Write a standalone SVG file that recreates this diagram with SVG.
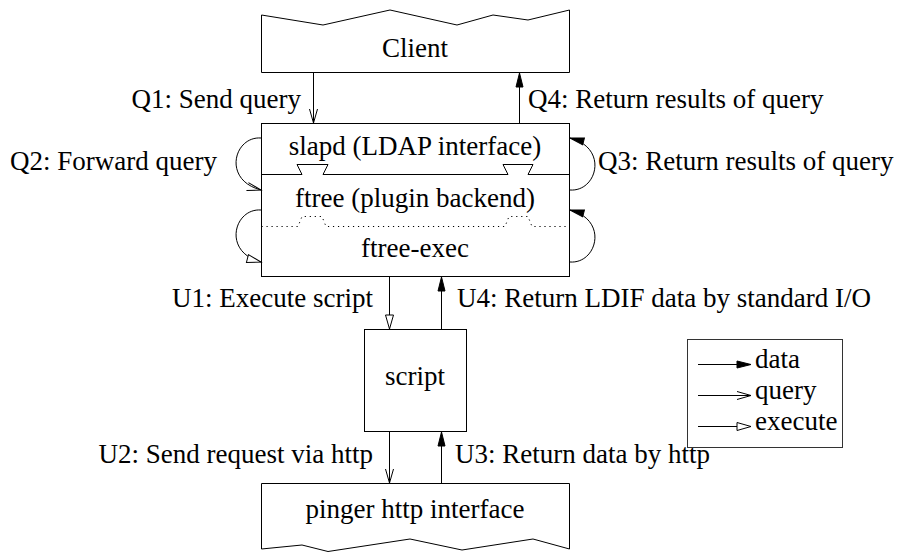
<svg xmlns="http://www.w3.org/2000/svg" width="902" height="554" viewBox="0 0 902 554">
<style>
text{font-family:"Liberation Serif","Times New Roman",serif;font-size:27px;fill:#000}
.c{text-anchor:middle}
.e{text-anchor:end}
.box{fill:#fff;stroke:#000;stroke-width:1}
.ln{fill:none;stroke:#000;stroke-width:1}
.dot{fill:none;stroke:#000;stroke-width:1;stroke-dasharray:1.2 3.8}
</style>
<defs>
<marker id="data" markerUnits="userSpaceOnUse" viewBox="0 0 16 10" markerWidth="16" markerHeight="10" refX="15" refY="5" orient="auto" overflow="visible">
<path d="M1,1.5 L15,5 L1,8.5 Z" fill="#000" stroke="#000" stroke-width="1"/>
</marker>
<marker id="query" markerUnits="userSpaceOnUse" viewBox="0 0 16 10" markerWidth="16" markerHeight="10" refX="15" refY="5" orient="auto" overflow="visible">
<path d="M1,1 L15,5 L1,9" fill="none" stroke="#000" stroke-width="1"/>
</marker>
<marker id="exec" markerUnits="userSpaceOnUse" viewBox="0 0 16 10" markerWidth="16" markerHeight="10" refX="15" refY="5" orient="auto" overflow="visible">
<path d="M1,1 L15,5 L1,9 Z" fill="#fff" stroke="#000" stroke-width="1"/>
</marker>
</defs>
<rect width="902" height="554" fill="#fff"/>

<g id="client">
<path class="box" d="M261.5,15 L323,25 L390,10 L457,25 L493,15 L528,20 L569.5,10 L569.5,72.5 L261.5,72.5 Z"/>
<text class="c" x="415" y="57">Client</text>
</g>

<g id="slapd-ftree">
<rect class="box" x="261.5" y="123.5" width="308" height="153"/>
<path class="ln" d="M261.5,174.5 L302,174.5 L297,164.5 L328,164.5 L323,174.5 L508,174.5 L503,164.5 L533,164.5 L528,174.5 L569.5,174.5"/>
<path class="dot" d="M261.5,226.5 L298,226.5 L302,216.5 L322,216.5 L326,226.5 L505,226.5 L509,216.5 L528,216.5 L532,226.5 L569.5,226.5"/>
<text class="c" x="415" y="155">slapd (LDAP interface)</text>
<text class="c" x="415" y="207">ftree (plugin backend)</text>
<text class="c" x="415" y="257">ftree-exec</text>
</g>

<g id="script">
<rect class="box" x="364.5" y="329.5" width="102" height="102"/>
<text class="c" x="415" y="385">script</text>
</g>

<g id="pinger">
<path class="box" d="M261.5,483.5 L569.5,483.5 L569.5,549 L533,539 L462,550 L410,539 L328,551.5 L302,545 L261.5,549 Z"/>
<text class="c" x="415" y="518">pinger http interface</text>
</g>

<g id="connectors">
<line class="ln" x1="313.5" y1="72.5" x2="313.5" y2="123" marker-end="url(#query)"/>
<line class="ln" x1="519.5" y1="123.5" x2="519.5" y2="73" marker-end="url(#data)"/>
<path class="ln" d="M261,138 C234,136 222,180 261,190" marker-end="url(#query)"/>
<path class="ln" d="M261,210 C234,208 222,252 261,262" marker-end="url(#exec)"/>
<path class="ln" d="M570,190 C597,192 609,148 570,138" marker-end="url(#data)"/>
<path class="ln" d="M570,262 C597,264 609,220 570,210" marker-end="url(#data)"/>
<line class="ln" x1="389.5" y1="276.5" x2="389.5" y2="329" marker-end="url(#exec)"/>
<line class="ln" x1="441.5" y1="329.5" x2="441.5" y2="277" marker-end="url(#data)"/>
<line class="ln" x1="389.5" y1="431.5" x2="389.5" y2="483" marker-end="url(#query)"/>
<line class="ln" x1="441.5" y1="483.5" x2="441.5" y2="432" marker-end="url(#data)"/>
</g>

<g id="labels">
<text class="e" x="301" y="108">Q1: Send query</text>
<text x="528" y="108">Q4: Return results of query</text>
<text x="10" y="170">Q2: Forward query</text>
<text x="598" y="170">Q3: Return results of query</text>
<text class="e" x="373" y="307">U1: Execute script</text>
<text x="457" y="307">U4: Return LDIF data by standard I/O</text>
<text class="e" x="373" y="463">U2: Send request via http</text>
<text x="455" y="463">U3: Return data by http</text>
</g>

<g id="legend">
<rect x="687.5" y="339.5" width="155" height="108" fill="#fff" stroke="#333" stroke-width="1"/>
<line class="ln" x1="698" y1="364.5" x2="751" y2="364.5" marker-end="url(#data)"/>
<text x="755" y="368">data</text>
<line class="ln" x1="698" y1="395.5" x2="751" y2="395.5" marker-end="url(#query)"/>
<text x="755" y="399">query</text>
<line class="ln" x1="698" y1="426.5" x2="751" y2="426.5" marker-end="url(#exec)"/>
<text x="755" y="430">execute</text>
</g>
</svg>
